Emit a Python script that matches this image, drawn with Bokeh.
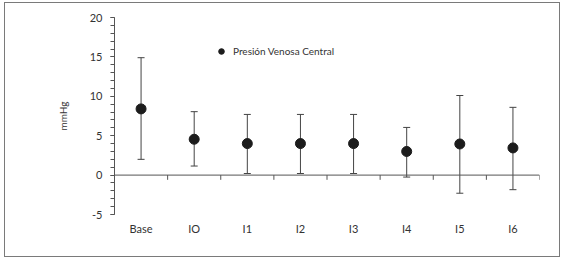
import numpy as np
from bokeh.plotting import figure
from bokeh.models import (ColumnDataSource, Whisker, FixedTicker, Legend, LegendItem, Span)
from bokeh.embed import file_html
from bokeh.resources import INLINE

categories = ["Base", "IO", "I1", "I2", "I3", "I4", "I5", "I6"]
means = [8.4, 4.55, 4.0, 4.0, 4.0, 3.0, 3.95, 3.45]
upper = [14.9, 8.05, 7.7, 7.7, 7.7, 6.05, 10.1, 8.6]
lower = [2.0, 1.15, 0.2, 0.2, 0.2, -0.25, -2.3, -1.85]
y_ticks = [-5, 0, 5, 10, 15, 20]
series_name = "Presión Venosa Central"

xpos = [i + 0.5 for i in range(len(categories))]
src = ColumnDataSource(dict(x=xpos, y=means, up=upper, lo=lower))

FONT = "Lato"
TXT = "#333333"

p = figure(width=556, height=255, x_range=(0, len(categories)), y_range=(-5, 20),
           output_backend="svg", toolbar_location=None,
           min_border_left=109, min_border_top=14, min_border_right=22, min_border_bottom=44)
p.styles = {"border": "1px solid #7a7a7a", "margin-left": "4px", "margin-top": "2px"}
p.outline_line_color = None
p.grid.visible = False
p.background_fill_color = "white"
p.border_fill_color = "white"

# y axis
ya = p.yaxis[0]
ya.ticker = FixedTicker(ticks=y_ticks, minor_ticks=list(range(-5, 21)))
ya.major_label_overrides = {t: str(t) for t in y_ticks}
ya.major_tick_in = 0
ya.major_tick_out = 4
ya.minor_tick_in = 0
ya.minor_tick_out = 4
ya.axis_line_color = "#555555"
ya.major_tick_line_color = "#555555"
ya.minor_tick_line_color = "#555555"
ya.major_label_text_font = FONT
ya.major_label_text_font_size = "11px"
ya.major_label_text_color = TXT
ya.major_label_standoff = 8
ya.axis_label = "mmHg"
ya.axis_label_text_font = FONT
ya.axis_label_text_font_size = "10px"
ya.axis_label_text_font_style = "normal"
ya.axis_label_text_color = TXT
ya.axis_label_standoff = 18

# x axis (labels only, at bottom)
xa = p.xaxis[0]
xa.ticker = FixedTicker(ticks=xpos, minor_ticks=[])
xa.major_label_overrides = {x: c for x, c in zip(xpos, categories)}
xa.axis_line_color = None
xa.major_tick_line_color = None
xa.minor_tick_line_color = None
xa.major_tick_out = 0
xa.major_tick_in = 0
xa.major_label_standoff = 7
xa.major_label_text_font = FONT
xa.major_label_text_font_size = "11px"
xa.major_label_text_color = TXT

# zero line with category boundary ticks
p.add_layout(Span(location=0, dimension="width", line_color="#555555", line_width=1))
bounds = list(range(1, len(categories) + 1))
p.segment(x0=bounds, x1=bounds, y0=[0] * len(bounds), y1=[-0.6] * len(bounds),
          line_color="#555555", line_width=1)

# error bars
w = Whisker(source=src, base="x", upper="up", lower="lo", line_color="#444444", line_width=1)
w.upper_head.size = 7
w.lower_head.size = 7
w.upper_head.line_color = "#444444"
w.lower_head.line_color = "#444444"
p.add_layout(w)

r = p.scatter("x", "y", source=src, size=10, color="#1c1c1c")

legend = Legend(items=[LegendItem(label=series_name, renderers=[r])],
                location=(100, 156), padding=0, margin=0, spacing=0,
                glyph_width=14, glyph_height=14, label_standoff=5,
                label_text_font=FONT, label_text_font_size="10px", label_text_color=TXT,
                border_line_color=None, background_fill_alpha=0)
p.add_layout(legend, "center")

open("out.html", "w").write(file_html(p, INLINE))
